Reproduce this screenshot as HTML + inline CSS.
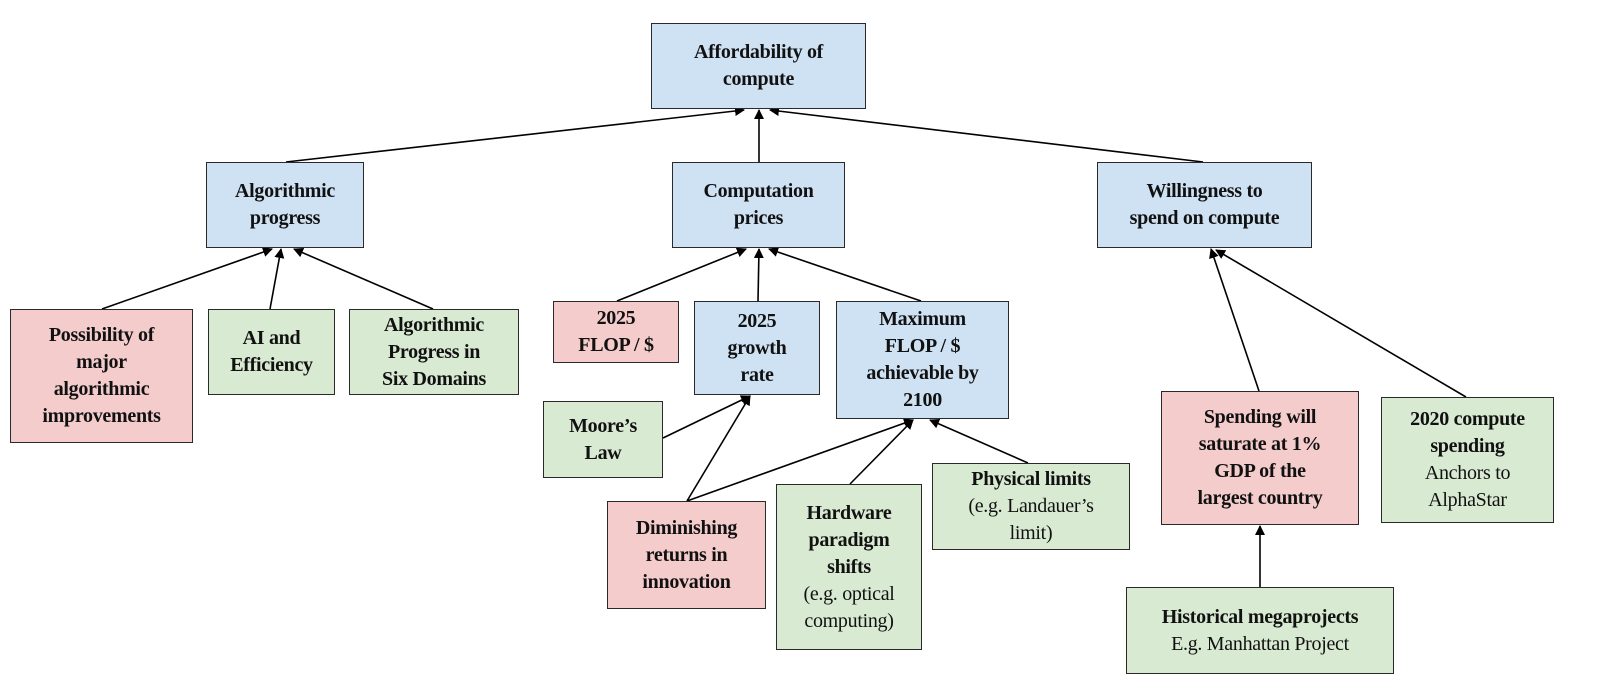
<!DOCTYPE html>
<html><head><meta charset="utf-8"><style>
html,body{margin:0;padding:0;background:#fff;}
#c{position:relative;width:1600px;height:691px;overflow:hidden;font-family:"Liberation Serif",serif;}
.b{position:absolute;box-sizing:border-box;border:1.6px solid #2a2a2a;display:flex;flex-direction:column;align-items:center;justify-content:center;text-align:center;font-size:20px;line-height:27px;color:#111;font-weight:bold;letter-spacing:-0.3px;}
.bl{background:#cfe2f3}.pk{background:#f4cccc}.gr{background:#d9ead3}
.n{font-weight:normal}
svg{position:absolute;left:0;top:0}
</style></head><body><div id="c">
<svg width="1600" height="691">
<defs><marker id="a" markerWidth="10" markerHeight="10" refX="9" refY="5" orient="auto" markerUnits="userSpaceOnUse"><path d="M0,0 L10,5 L0,10 z" fill="#000"/></marker></defs>
<g stroke="#000" stroke-width="1.6" fill="none" marker-end="url(#a)">
<line x1="286" y1="162" x2="744" y2="110"/>
<line x1="759" y1="162" x2="759" y2="110"/>
<line x1="1203" y1="162" x2="770" y2="110"/>
<line x1="102" y1="309" x2="272" y2="249"/>
<line x1="270" y1="309" x2="281" y2="249"/>
<line x1="433" y1="309" x2="294" y2="249"/>
<line x1="617" y1="301" x2="746" y2="249"/>
<line x1="758" y1="301" x2="759" y2="249"/>
<line x1="921" y1="301" x2="769" y2="249"/>
<line x1="663" y1="438" x2="750" y2="396"/>
<line x1="687" y1="501" x2="750" y2="396"/>
<line x1="687" y1="501" x2="913" y2="420"/>
<line x1="850" y1="484" x2="913" y2="420"/>
<line x1="1028" y1="463" x2="930" y2="420"/>
<line x1="1259" y1="391" x2="1211" y2="249"/>
<line x1="1466" y1="397" x2="1216" y2="250"/>
<line x1="1260" y1="587" x2="1260" y2="526"/>
</g></svg>
<div class="b bl" style="left:651px;top:23px;width:215px;height:86px">Affordability of<br>compute</div>
<div class="b bl" style="left:206px;top:162px;width:158px;height:86px">Algorithmic<br>progress</div>
<div class="b bl" style="left:672px;top:162px;width:173px;height:86px">Computation<br>prices</div>
<div class="b bl" style="left:1097px;top:162px;width:215px;height:86px">Willingness to<br>spend on compute</div>
<div class="b pk" style="left:10px;top:309px;width:183px;height:134px">Possibility of<br>major<br>algorithmic<br>improvements</div>
<div class="b gr" style="left:208px;top:309px;width:127px;height:86px">AI and<br>Efficiency</div>
<div class="b gr" style="left:349px;top:309px;width:170px;height:86px">Algorithmic<br>Progress in<br>Six Domains</div>
<div class="b pk" style="left:553px;top:301px;width:126px;height:62px">2025<br>FLOP / $</div>
<div class="b bl" style="left:694px;top:301px;width:126px;height:94px">2025<br>growth<br>rate</div>
<div class="b bl" style="left:836px;top:301px;width:173px;height:118px">Maximum<br>FLOP / $<br>achievable by<br>2100</div>
<div class="b gr" style="left:543px;top:401px;width:120px;height:77px">Moore’s<br>Law</div>
<div class="b pk" style="left:607px;top:501px;width:159px;height:108px">Diminishing<br>returns in<br>innovation</div>
<div class="b gr" style="left:776px;top:484px;width:146px;height:166px">Hardware<br>paradigm<br>shifts<span class="n">(e.g. optical<br>computing)</span></div>
<div class="b gr" style="left:932px;top:463px;width:198px;height:87px">Physical limits<span class="n">(e.g. Landauer’s<br>limit)</span></div>
<div class="b pk" style="left:1161px;top:391px;width:198px;height:134px">Spending will<br>saturate at 1%<br>GDP of the<br>largest country</div>
<div class="b gr" style="left:1381px;top:397px;width:173px;height:126px">2020 compute<br>spending<span class="n">Anchors to<br>AlphaStar</span></div>
<div class="b gr" style="left:1126px;top:587px;width:268px;height:87px">Historical megaprojects<span class="n">E.g. Manhattan Project</span></div>
</div></body></html>
